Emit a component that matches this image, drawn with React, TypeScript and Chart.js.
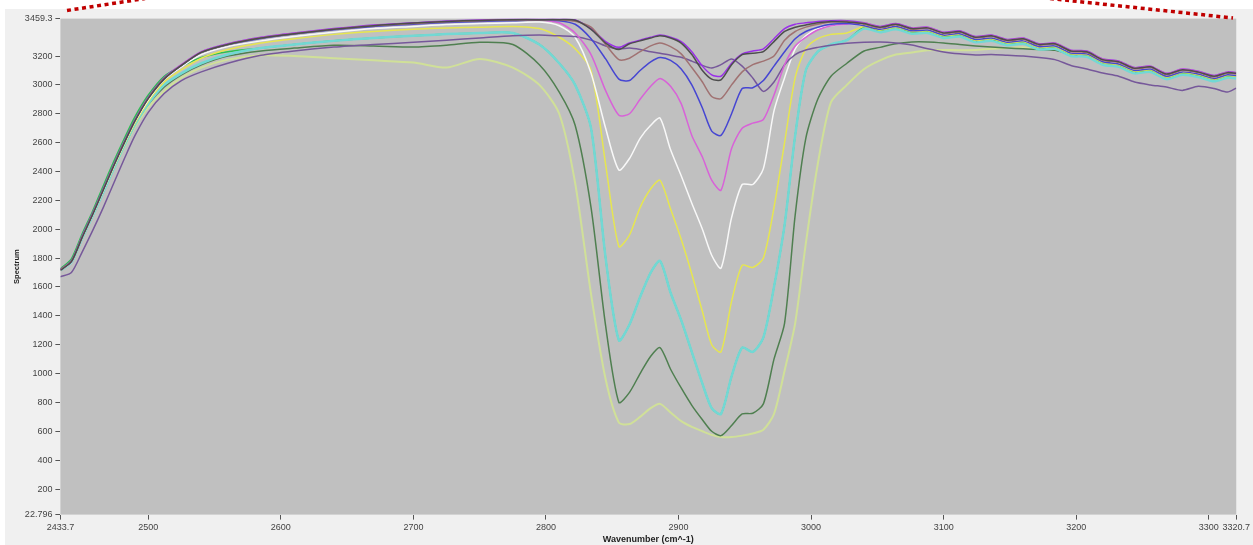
import { useEffect, useRef } from "react";
import { Chart, registerables } from "chart.js";

Chart.register(...registerables);

const wavenumbers = [
  2433.7, 2442, 2450, 2458, 2466, 2474, 2482, 2490, 2500, 2512,
  2525, 2540, 2560, 2585, 2610, 2640, 2670, 2700, 2725, 2750,
  2775,
  2795, 2810, 2822, 2834, 2845, 2855, 2863, 2871, 2879, 2886,
  2894, 2902, 2910, 2918, 2925, 2932, 2940, 2948, 2956, 2964,
  2972, 2980, 2988, 2996, 3005, 3015, 3027,
  3040, 3052, 3064, 3076, 3088, 3100, 3112, 3124, 3136, 3148,
  3160, 3172, 3184, 3196, 3208, 3220, 3232, 3244, 3256, 3268,
  3280, 3292, 3304, 3314, 3320.7,
];

const xTickValues = [2433.7, 2500, 2600, 2700, 2800, 2900, 3000, 3100, 3200, 3300, 3320.7];
const yTickValues = [22.796, 200, 400, 600, 800, 1000, 1200, 1400, 1600, 1800, 2000, 2200, 2400, 2600, 2800, 3000, 3200, 3459.3];

const darkGray = [
  1715, 1775, 1940, 2100, 2270, 2440, 2600, 2750, 2905, 3040,
  3135, 3225, 3280, 3325, 3355, 3385, 3410, 3428, 3440, 3447,
  3452,
  3452, 3452, 3448, 3385, 3290, 3245, 3285, 3305, 3325, 3340,
  3325, 3290, 3210, 3100, 3040, 3035, 3140, 3210, 3220, 3230,
  3300, 3370, 3400, 3415, 3430, 3440, 3435,
  3425, 3400, 3420, 3390, 3395, 3360, 3370, 3330, 3340, 3310,
  3320, 3280, 3285, 3235, 3230, 3175, 3160, 3115, 3125, 3075,
  3105, 3090, 3060, 3085, 3080,
];

const brown = [
  1720, 1778, 1945, 2105, 2275, 2445, 2605, 2755, 2910, 3045,
  3135, 3225, 3280, 3325, 3355, 3385, 3410, 3425, 3438, 3445,
  3450,
  3450, 3450, 3440, 3400, 3280, 3175, 3185, 3230, 3270, 3290,
  3265, 3215, 3120, 3020, 2920, 2905, 3000, 3090, 3140, 3165,
  3200, 3310, 3370, 3400, 3420, 3435, 3440,
  3420, 3395, 3415, 3385, 3390, 3355, 3365, 3325, 3335, 3305,
  3315, 3275, 3280, 3230, 3225, 3170, 3155, 3110, 3120, 3070,
  3100, 3085, 3055, 3080, 3075,
];

const blue = [
  1720, 1778, 1945, 2105, 2275, 2445, 2605, 2755, 2910, 3045,
  3135, 3225, 3280, 3322, 3352, 3382, 3405, 3420, 3432, 3440,
  3445,
  3450, 3445, 3420, 3320, 3180, 3040, 3030, 3100, 3160, 3190,
  3170, 3110, 3000, 2840, 2680, 2650, 2800, 2975, 2980, 3030,
  3130, 3230, 3320, 3370, 3400, 3420, 3425,
  3410, 3385, 3405, 3375, 3380, 3345, 3355, 3315, 3325, 3295,
  3305, 3265, 3270, 3220, 3215, 3160, 3145, 3100, 3110, 3060,
  3090, 3075, 3045, 3070, 3065,
];

const magenta = [
  1720, 1778, 1945, 2105, 2275, 2445, 2605, 2755, 2910, 3045,
  3140, 3228, 3282, 3326, 3356, 3386, 3410, 3426, 3438, 3446,
  3450,
  3450, 3430, 3360, 3210, 2960, 2790, 2800, 2900, 2990, 3045,
  2990, 2870, 2650, 2500, 2340, 2270, 2560, 2700, 2735, 2760,
  2930, 3140, 3270, 3330, 3380, 3410, 3420,
  3428, 3402, 3422, 3392, 3398, 3362, 3372, 3332, 3342, 3312,
  3322, 3282, 3288, 3238, 3232, 3178, 3162, 3118, 3128, 3078,
  3108, 3092, 3062, 3088, 3082,
];

const violet = [
  1720, 1780, 1950, 2110, 2280, 2450, 2610, 2760, 2915, 3050,
  3140, 3230, 3285, 3330, 3360, 3390, 3415, 3430, 3443, 3450,
  3455,
  3455, 3455, 3450, 3390, 3300, 3260, 3290, 3310, 3330, 3345,
  3330, 3300, 3230, 3130, 3070, 3060, 3150, 3215, 3235, 3250,
  3320, 3390, 3420, 3430, 3440, 3445, 3445,
  3430, 3405, 3425, 3395, 3400, 3365, 3375, 3335, 3345, 3315,
  3325, 3285, 3290, 3240, 3235, 3180, 3165, 3120, 3130, 3080,
  3110, 3095, 3065, 3090, 3085,
];

const darkPurple = [
  1670, 1700, 1840, 1990, 2150, 2320, 2490, 2650, 2810, 2940,
  3030, 3090, 3150, 3205, 3235, 3262, 3280, 3295, 3310, 3325,
  3340,
  3345, 3340, 3335, 3310, 3270, 3250, 3255, 3245, 3230, 3220,
  3205, 3192, 3165, 3135, 3117, 3140, 3180, 3130, 3048, 2955,
  3020, 3140, 3210, 3242, 3260, 3275, 3288,
  3295, 3297, 3290, 3276, 3250, 3228, 3215, 3207, 3210, 3205,
  3200, 3190, 3175, 3135, 3110, 3082, 3060, 3020, 3000, 2985,
  2962, 2990, 2975, 2950, 2978,
];

const white = [
  1715, 1772, 1938, 2098, 2265, 2435, 2595, 2745, 2895, 3035,
  3125, 3210, 3265, 3305, 3335, 3365, 3390, 3405, 3418, 3425,
  3430,
  3435, 3410, 3330, 3080, 2700, 2410, 2490, 2630, 2720, 2770,
  2550, 2370, 2180, 2000, 1820, 1730, 2080, 2310, 2310, 2420,
  2820, 3050, 3250, 3340, 3390, 3410, 3420,
  3415, 3390, 3410, 3380, 3385, 3350, 3360, 3320, 3330, 3300,
  3310, 3270, 3275, 3225, 3220, 3165, 3150, 3105, 3115, 3065,
  3095, 3080, 3050, 3075, 3070,
];

const yellow = [
  1718, 1775, 1940, 2100, 2265, 2430, 2590, 2735, 2885, 3020,
  3105, 3185, 3245, 3290, 3320, 3350, 3370, 3385, 3395, 3400,
  3405,
  3390, 3330, 3250, 3100, 2450, 1880, 1960, 2150, 2280, 2340,
  2140, 1930, 1690, 1430, 1200, 1150, 1500, 1750, 1735, 1800,
  2150, 2600, 3050, 3250, 3320, 3350, 3360,
  3405, 3380, 3400, 3370, 3375, 3340, 3350, 3310, 3320, 3290,
  3300, 3260, 3265, 3215, 3210, 3155, 3140, 3095, 3105, 3055,
  3085, 3070, 3040, 3065, 3060,
];

const cyan = [
  1715, 1770, 1935, 2092, 2255, 2420, 2580, 2725, 2870, 3000,
  3080, 3150, 3210, 3255, 3280, 3305, 3325, 3340, 3352, 3360,
  3360,
  3280, 3150, 3000, 2700, 1800, 1230, 1340, 1530, 1700, 1780,
  1560, 1370, 1150, 930, 760, 720, 980, 1180, 1150, 1250,
  1600, 2030, 2650, 3100, 3230, 3280, 3310,
  3390, 3365, 3385, 3355, 3360, 3325, 3335, 3295, 3305, 3275,
  3285, 3245, 3250, 3200, 3195, 3140, 3125, 3080, 3090, 3040,
  3070, 3055, 3025, 3050, 3045,
];

const green = [
  1725, 1795, 1965, 2125, 2300, 2470, 2630, 2780, 2930, 3060,
  3130, 3190, 3230, 3255, 3280, 3305, 3325, 3340, 3352, 3360,
  3360,
  3280, 3150, 3000, 2700, 1800, 1230, 1340, 1530, 1700, 1780,
  1560, 1370, 1150, 930, 760, 720, 980, 1180, 1150, 1250,
  1600, 2030, 2650, 3100, 3230, 3280, 3310,
  3400, 3372, 3392, 3362, 3368, 3332, 3342, 3300, 3312, 3282,
  3292, 3250, 3258, 3205, 3202, 3148, 3132, 3088, 3098, 3048,
  3078, 3062, 3032, 3058, 3072,
];

const darkGreen = [
  1718, 1772, 1938, 2095, 2260, 2425, 2580, 2725, 2865, 2985,
  3070, 3140, 3200, 3235, 3255, 3275, 3270, 3262, 3275, 3295,
  3280,
  3140, 2950, 2720, 2150, 1330, 800, 870, 1000, 1120, 1180,
  1030, 900, 780, 680, 600, 570, 640, 720, 725, 790,
  1100, 1350, 2100, 2630, 2900, 3060, 3150,
  3235, 3260, 3285, 3297, 3297, 3290, 3280, 3270, 3262, 3255,
  3250, 3245, 3240, 3210, 3200, 3160, 3140, 3100, 3105, 3060,
  3085, 3070, 3040, 3062, 3060,
];

const lightYellowGreen = [
  1718, 1772, 1938, 2095, 2260, 2420, 2570, 2710, 2845, 2960,
  3050, 3120, 3175, 3205, 3200, 3185, 3170, 3155, 3120, 3180,
  3120,
  3000, 2800, 2320, 1550, 960, 660, 650, 700, 760, 790,
  730, 670, 630, 600, 575, 560, 560, 570, 585, 610,
  720, 1020, 1350, 1900, 2450, 2880, 3000,
  3110, 3170, 3210, 3225, 3240, 3242, 3240, 3242, 3250, 3255,
  3260, 3245, 3250, 3215, 3210, 3160, 3150, 3105, 3115, 3065,
  3095, 3080, 3050, 3075, 3070,
];

const seriesList = [
  { name: "S1", values: darkGray, color: "#4d4d4d", width: 1.5 },
  { name: "S2", values: brown, color: "#a07272", width: 1.5 },
  { name: "S3", values: blue, color: "#4646d2", width: 1.5 },
  { name: "S4", values: magenta, color: "#d862d8", width: 1.5 },
  { name: "S5", values: violet, color: "#9a30e8", width: 1.5 },
  { name: "S6", values: darkPurple, color: "#76589a", width: 1.5 },
  { name: "S7", values: white, color: "#f8f8f8", width: 1.5 },
  { name: "S8", values: yellow, color: "#e6e650", width: 1.5 },
  { name: "S9", values: cyan, color: "#72d8d4", width: 2.5 },
  { name: "S10", values: green, color: "#2cbf50", width: 1.5 },
  { name: "S11", values: darkGreen, color: "#4f7f50", width: 1.5 },
  { name: "S12", values: lightYellowGreen, color: "#d0e098", width: 2 },
];

const W = 1253;
const H = 545;
const PLOT_LEFT = 60.4;
const PLOT_RIGHT = 1236.8;
const PLOT_TOP = 18.6;
const PLOT_BOTTOM = 514.6;

const fmt = (v: number) => String(v);

const backgroundPlugin = {
  id: "bgPanels",
  beforeDraw(chart: any) {
    const { ctx, chartArea } = chart;
    ctx.save();
    ctx.fillStyle = "#ffffff";
    ctx.fillRect(0, 0, W, H);
    ctx.fillStyle = "#f0f0f0";
    ctx.fillRect(5, 9, W - 5, H - 9);
    ctx.fillStyle = "#c0c0c0";
    ctx.fillRect(chartArea.left, chartArea.top, chartArea.right - chartArea.left, chartArea.bottom - chartArea.top);
    ctx.restore();
  },
};

const dottedPlugin = {
  id: "redDots",
  afterDraw(chart: any) {
    const { ctx } = chart;
    ctx.save();
    ctx.strokeStyle = "#c00000";
    ctx.lineWidth = 3.5;
    ctx.setLineDash([4, 3.6]);
    ctx.beginPath();
    ctx.moveTo(67, 10.5);
    ctx.lineTo(145, -1.5);
    ctx.stroke();
    ctx.beginPath();
    ctx.moveTo(1050, -1.5);
    ctx.lineTo(1233, 18);
    ctx.stroke();
    ctx.restore();
  },
};

export default function App() {
  const ref = useRef<HTMLCanvasElement | null>(null);

  useEffect(() => {
    if (!ref.current) return;
    const tickFont = { family: "'Liberation Sans', Arial, sans-serif", size: 9 };
    const chart = new Chart(ref.current, {
      type: "line",
      data: {
        datasets: seriesList.map((s) => ({
          label: s.name,
          data: wavenumbers.map((x, i) => ({ x, y: s.values[i] })),
          borderColor: s.color,
          borderWidth: s.width,
          pointRadius: 0,
          tension: 0.25,
          fill: false,
        })),
      },
      options: {
        responsive: false,
        animation: false,
        events: [],
        layout: { padding: { left: 0, right: W - PLOT_RIGHT, top: PLOT_TOP, bottom: 0 } },
        plugins: { legend: { display: false }, tooltip: { enabled: false } },
        scales: {
          x: {
            type: "linear",
            min: 2433.7,
            max: 3320.7,
            afterBuildTicks: (scale: any) => {
              scale.ticks = xTickValues.map((v) => ({ value: v }));
            },
            afterFit: (scale: any) => {
              scale.height = H - PLOT_BOTTOM;
            },
            ticks: {
              autoSkip: false,
              maxRotation: 0,
              minRotation: 0,
              padding: 3,
              color: "#444444",
              font: tickFont,
              callback: (v: any) => fmt(v),
            },
            grid: { drawOnChartArea: false, drawTicks: true, tickLength: 5, color: "#555555" },
            border: { display: false },
            title: {
              display: true,
              text: "Wavenumber (cm^-1)",
              color: "#222222",
              font: { family: "'Liberation Sans', Arial, sans-serif", size: 9, weight: "bold" },
              padding: { top: 0, bottom: 0 },
            },
          },
          y: {
            type: "linear",
            min: 22.796,
            max: 3459.3,
            afterBuildTicks: (scale: any) => {
              scale.ticks = yTickValues.map((v) => ({ value: v }));
            },
            afterFit: (scale: any) => {
              scale.width = PLOT_LEFT;
            },
            ticks: {
              autoSkip: false,
              padding: 3,
              color: "#444444",
              font: tickFont,
              callback: (v: any) => fmt(v),
            },
            grid: { drawOnChartArea: false, drawTicks: true, tickLength: 5, color: "#555555" },
            border: { display: false },
            title: {
              display: true,
              text: "Spectrum",
              color: "#222222",
              font: { family: "'Liberation Sans', Arial, sans-serif", size: 7.5, weight: "bold" },
              padding: { top: 12.5, bottom: 0 },
            },
          },
        },
      },
      plugins: [backgroundPlugin, dottedPlugin],
    });
    return () => chart.destroy();
  }, []);

  return (
    <div style={{ position: "fixed", left: 0, top: 0, width: W, height: H, background: "#ffffff" }}>
      <canvas ref={ref} width={W} height={H} style={{ display: "block", width: W, height: H }} />
    </div>
  );
}
